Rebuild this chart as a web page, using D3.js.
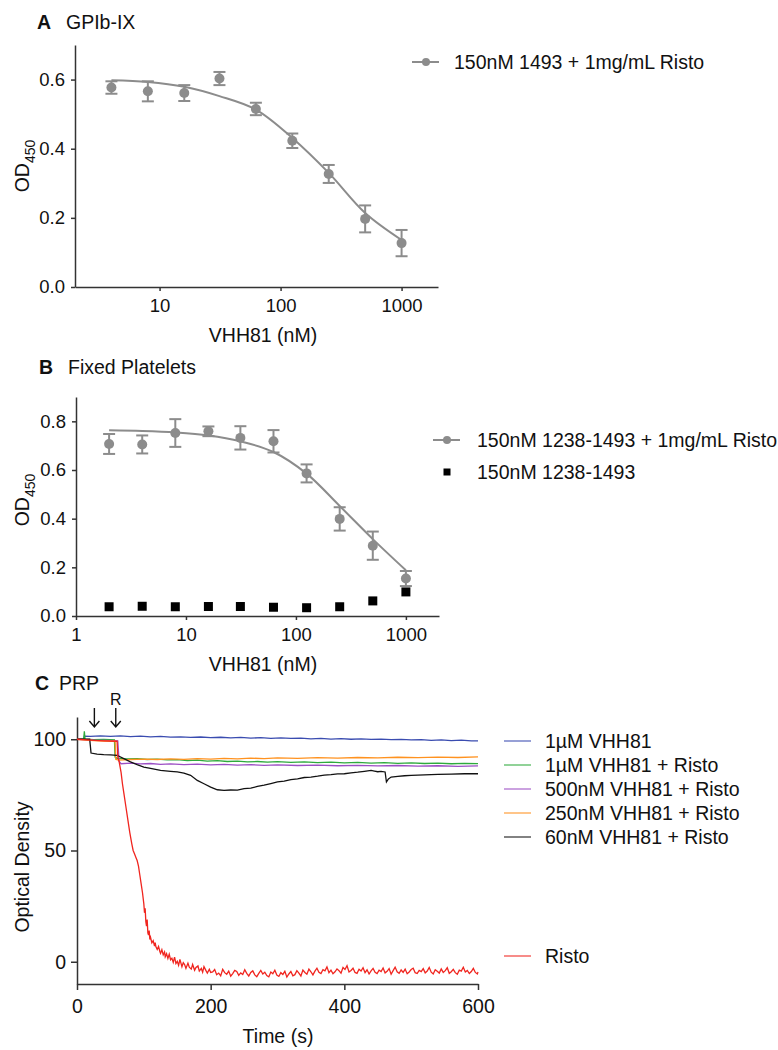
<!DOCTYPE html>
<html>
<head>
<meta charset="utf-8">
<script src="https://cdn.jsdelivr.net/npm/d3@7"></script>
<style>
  body { margin: 0; background: #fff; }
  svg { font-family: "Liberation Sans", Arial, sans-serif; }
  .axis path, .axis line { stroke: #333; stroke-width: 1.5; }
  .axis text { fill: #111; font-family: "Liberation Sans", Arial, sans-serif; }
</style>
</head>
<body>
<svg id="fig" width="778" height="1050"></svg>
<script>
// ---------------- Panel A: GPIb-IX ----------------
const concA = [4, 8, 16, 31.25, 62.5, 125, 250, 500, 1000];
const odA   = [0.577, 0.566, 0.561, 0.603, 0.515, 0.423, 0.327, 0.197, 0.127];
const semA  = [0.018, 0.029, 0.023, 0.019, 0.018, 0.021, 0.026, 0.039, 0.038];
// fitted curve
const fitAx = [4, 8, 16, 31.25, 62.5, 125, 250, 500, 1000];
const fitAy = [0.598, 0.593, 0.579, 0.552, 0.513, 0.431, 0.330, 0.214, 0.136];

// ---------------- Panel B: Fixed Platelets ----------------
const concB   = [2, 4, 8, 16, 31.25, 62.5, 125, 250, 500, 1000];
const odB     = [0.707, 0.705, 0.752, 0.759, 0.732, 0.718, 0.586, 0.399, 0.289, 0.154];
const semB    = [0.041, 0.037, 0.057, 0.020, 0.048, 0.046, 0.037, 0.048, 0.058, 0.031];
const odBctrl = [0.038, 0.040, 0.038, 0.039, 0.039, 0.036, 0.034, 0.038, 0.062, 0.099];
const fitBx = [2, 4, 8, 16, 31.25, 62.5, 125, 250, 500, 1000];
const fitBy = [0.763, 0.760, 0.754, 0.742, 0.718, 0.674, 0.585, 0.452, 0.316, 0.188];

// ---------------- Panel C: PRP aggregometry ----------------
const traceBlue = [[0,100],[10,100],[11,101.4],[20,101.3],[35,101.5],[50,101.3],[65,101.5],[80,101.2],[95,101.4],[110,101.1],[125,101.3],[140,101.0],[155,101.1],[170,100.8],[185,101.0],[200,100.7],[215,100.9],[230,100.6],[245,100.8],[260,100.5],[275,100.7],[290,100.4],[305,100.6],[320,100.4],[335,100.5],[350,100.2],[365,100.4],[380,100.1],[395,100.3],[410,100.0],[425,100.2],[440,99.9],[455,100.1],[470,99.8],[485,99.9],[500,99.7],[515,99.8],[530,99.5],[545,99.7],[560,99.4],[575,99.6],[590,99.3],[600,99.3]];
const traceGreen = [[0,100],[10,100],[11,103.6],[12,100.1],[25,99.8],[40,99.9],[56,99.7],[57,92.0],[60,91.4],[75,91.2],[90,91.3],[105,90.9],[120,91.1],[135,90.7],[150,90.8],[165,90.4],[180,90.6],[195,90.2],[210,90.4],[225,90.0],[240,90.2],[255,89.8],[270,90.0],[285,89.7],[300,89.9],[320,89.6],[340,89.8],[360,89.5],[380,89.7],[400,89.4],[420,89.6],[440,89.3],[460,89.5],[480,89.2],[500,89.4],[520,89.1],[540,89.3],[560,89.0],[580,89.2],[600,89.0]];
const tracePurple = [[0,100],[10,99.8],[25,99.6],[40,99.5],[55,99.4],[61,99.3],[63,90.0],[66,89.0],[80,89.3],[95,88.9],[110,89.1],[125,88.7],[140,88.9],[160,88.6],[180,88.8],[200,88.5],[220,88.7],[240,88.4],[260,88.6],[280,88.3],[300,88.5],[330,88.2],[360,88.4],[390,88.1],[420,88.3],[450,88.0],[480,88.2],[510,87.9],[540,88.1],[570,87.8],[600,88.0]];
const traceOrange = [[0,100],[10,99.7],[25,99.4],[40,99.2],[57,99.1],[58,91.0],[62,90.6],[80,90.9],[100,91.1],[120,90.9],[140,91.2],[160,91.0],[180,91.3],[200,91.1],[220,91.4],[240,91.2],[260,91.5],[280,91.3],[300,91.6],[330,91.4],[360,91.7],[390,91.5],[420,91.8],[450,91.6],[480,91.9],[510,91.7],[540,92.0],[570,91.8],[600,92.1]];
const traceBlack = [[0,100],[19,100],[21,93.8],[30,93.3],[40,93.1],[50,93.0],[60,92.8],[70,91.3],[80,89.8],[90,88.6],[100,87.5],[110,86.9],[125,86.0],[140,85.6],[150,85.3],[160,84.8],[170,83.8],[180,81.5],[190,80.0],[200,78.5],[210,77.3],[220,77.0],[230,77.2],[240,77.1],[250,77.8],[260,78.0],[270,78.8],[280,79.4],[290,80.1],[300,80.8],[310,81.2],[320,81.9],[330,82.2],[340,82.8],[350,83.0],[360,83.4],[370,83.9],[380,84.1],[390,84.4],[400,84.5],[410,84.9],[420,85.2],[430,85.6],[440,86.0],[445,85.7],[450,85.4],[455,85.6],[461,85.3],[463,80.8],[466,82.2],[470,83.0],[480,83.3],[490,83.6],[500,83.8],[520,84.0],[540,84.2],[560,84.3],[580,84.5],[600,84.5]];
const traceRed = [[0,100],[20,99.6],[40,99.3],[60,99.1],[61,92],[63,90],[66,85],[68,80],[70,76],[73,70],[76,64],[79,58],[82,53],[84,50],[86,48.5],[88,47],[90,45.5],[92,43],[94,39],[96,35],[98,31],[100,26],[101,22],[102,24],[103,18],[104,16],[105,19],[106,13],[107,12],[108,14],[109,10],[110,11],[112,8.5],[114,9.5],[116,7],[117,8.6],[118,6.8],[120,5.5],[122,6.9],[124,4.6],[125,3.8],[127,5.4],[129,3.1],[131,4.4],[132,2.2],[134,3.6],[136,1.5],[138,3.4],[140,0.9],[142,1.6],[144,-0.3],[146,2.1],[148,-0.8],[150,0.2],[152,-1.6],[154,1.1],[157,-2.2],[159,-0.4],[161,-1.3],[163,-3.0],[166,-0.6],[168,-2.4],[171,-3.3],[173,-1.2],[176,-3.8],[178,-2.6],[181,-1.9],[183,-4.2],[186,-3.0],[188,-4.7],[190,-2.2],[193,-4.0],[195,-5.1],[198,-3.4],[200,-4.8],
  [203,-4.6],[206,-3.5],[209,-5.8],[212,-5.1],[215,-6.3],[218,-3.4],[221,-4.9],[224,-5.6],[227,-4.2],[230,-6.5],[233,-5.3],[236,-3.9],[239,-4.4],[242,-6.1],[245,-5.0],[248,-5.7],[251,-3.6],[254,-5.2],[257,-6.4],[260,-4.8],[263,-4.1],[266,-5.9],[269,-6.7],[272,-5.2],[275,-3.9],[278,-5.5],[281,-4.7],[284,-6.2],[287,-6.8],[290,-4.6],[293,-5.4],[296,-3.8],[299,-6.0],[302,-6.6],[305,-4.9],[308,-5.7],[311,-4.3],[314,-6.9],[317,-5.5],[320,-4.4],[323,-6.3],[326,-5.8],[329,-4.0],[332,-5.1],[335,-6.4],[338,-3.7],[341,-4.8],[344,-5.6],[347,-3.3],[350,-4.5],[353,-5.9],[356,-4.2],[359,-2.9],[362,-4.7],[365,-5.3],[368,-3.6],[371,-4.1],[374,-2.3],[377,-4.9],[380,-3.8],[383,-5.4],[386,-4.5],[389,-3.2],[392,-4.0],[395,-5.1],[398,-2.6],[401,-3.5],[404,-1.8],[407,-4.6],[410,-3.9],[413,-2.9],[416,-4.8],[419,-5.2],[422,-3.4],[425,-4.2],[428,-2.7],[431,-4.9],[434,-3.6],[437,-5.5],[440,-4.1],[443,-3.0],[446,-4.7],[449,-5.3],[452,-3.8],[455,-4.4],[458,-2.8],[461,-5.0],[464,-4.3],[467,-3.1],[470,-5.6],[473,-4.0],[476,-2.4],[479,-4.5],[482,-5.2],[485,-3.7],[488,-4.8],[491,-3.3],[494,-5.4],[497,-4.6],[500,-3.5],[503,-2.9],[506,-4.9],[509,-5.3],[512,-3.9],[515,-4.4],[518,-3.1],[521,-5.0],[524,-4.2],[527,-2.6],[530,-4.7],[533,-5.5],[536,-3.6],[539,-4.3],[542,-5.1],[545,-3.2],[548,-4.8],[551,-4.0],[554,-2.7],[557,-5.2],[560,-4.5],[563,-3.4],[566,-4.9],[569,-5.6],[572,-3.8],[575,-4.2],[578,-2.5],[581,-4.6],[584,-3.9],[587,-5.3],[590,-4.4],[593,-3.0],[596,-4.8],[599,-5.5],[600,-4.6]];

const traceLabels = ['1µM VHH81', '1µM VHH81 + Risto', '500nM VHH81 + Risto', '250nM VHH81 + Risto', '60nM VHH81 + Risto', 'Risto'];
const traceColors = ['#3a4cb0', '#2eaa3c', '#9c4fc4', '#ff921f', '#111111', '#f0251f'];
const traceData = [traceBlue, traceGreen, tracePurple, traceOrange, traceBlack, traceRed];
const arrowTimes = [26, 58];

const gray = '#8c8c8c';
const svg = d3.select('#fig');

function subLabel(g, x, y, main, sub) {
  // rotated y-axis label with subscript
  let t = g.append('text')
      .attr('transform', `translate(${x},${y}) rotate(-90)`)
      .attr('text-anchor', 'middle')
      .attr('font-size', 19.5).attr('fill', '#111');
  t.append('tspan').text(main);
  t.append('tspan').attr('font-size', 14).attr('dy', 6).text(sub);
}

function panelTitle(x, y, letter, name) {
  svg.append('text').attr('x', x).attr('y', y)
      .attr('font-size', 19.5).attr('font-weight', 'bold').attr('fill', '#111').text(letter);
  svg.append('text').attr('x', x + 29).attr('y', y)
      .attr('font-size', 19.5).attr('fill', '#111').text(name);
}

/**
 * Dose-response panel (A and B)
 */
function dosePanel(cfg) {
  let x = d3.scaleLog().domain(cfg.xDomain).range(cfg.xRange);
  let y = d3.scaleLinear().domain(cfg.yDomain).range(cfg.yRange);

  let xAxis = d3.axisBottom(x).tickValues(cfg.xTicks).tickFormat(d3.format('d'))
      .tickSize(4).tickSizeOuter(0).tickPadding(8);
  let yAxis = d3.axisLeft(y).tickValues(cfg.yTicks).tickFormat(d3.format('.1f'))
      .tickSize(4).tickSizeOuter(0).tickPadding(6);

  svg.append('g').attr('class', 'axis')
      .attr('transform', `translate(0,${cfg.yRange[0]})`)
      .call(xAxis).call(g => g.selectAll('text').attr('font-size', 18.5));
  svg.append('g').attr('class', 'axis')
      .attr('transform', `translate(${cfg.xRange[0]},0)`)
      .call(yAxis).call(g => g.selectAll('text').attr('font-size', 18.5));

  // fitted curve
  let fit = cfg.fitX.map((d, i) => [d, cfg.fitY[i]]);
  svg.append('path').datum(fit)
      .attr('fill', 'none').attr('stroke', gray).attr('stroke-width', 2)
      .attr('d', d3.line().x(d => x(d[0])).y(d => y(d[1])).curve(d3.curveCatmullRom.alpha(0.5)));

  // control squares
  if (cfg.ctrl) {
    svg.append('g').selectAll('rect')
        .data(cfg.conc.map((c, i) => [c, cfg.ctrl[i]]))
        .join('rect')
        .attr('x', d => x(d[0]) - 4.5).attr('y', d => y(d[1]) - 4.5)
        .attr('width', 9).attr('height', 9).attr('fill', '#000');
  }

  let pts = cfg.conc.map((c, i) => ({c: c, v: cfg.od[i], e: cfg.sem[i]}));
  let eb = svg.append('g').attr('stroke', gray).attr('stroke-width', 2);
  eb.selectAll('.stem').data(pts).join('line')
      .attr('x1', d => x(d.c)).attr('x2', d => x(d.c))
      .attr('y1', d => y(d.v - d.e)).attr('y2', d => y(d.v + d.e));
  eb.selectAll('.capT').data(pts).join('line')
      .attr('x1', d => x(d.c) - 6).attr('x2', d => x(d.c) + 6)
      .attr('y1', d => y(d.v + d.e)).attr('y2', d => y(d.v + d.e));
  eb.selectAll('.capB').data(pts).join('line')
      .attr('x1', d => x(d.c) - 6).attr('x2', d => x(d.c) + 6)
      .attr('y1', d => y(d.v - d.e)).attr('y2', d => y(d.v - d.e));
  svg.append('g').selectAll('circle').data(pts).join('circle')
      .attr('cx', d => x(d.c)).attr('cy', d => y(d.v)).attr('r', 5).attr('fill', gray);

  svg.append('text').attr('x', 263).attr('y', cfg.xLabelY)
      .attr('text-anchor', 'middle').attr('font-size', 19.5).attr('fill', '#111')
      .text('VHH81 (nM)');
  subLabel(svg, 29, cfg.yLabelMid, 'OD', '450');
}

panelTitle(37, 29, 'A', 'GPIb-IX');
dosePanel({
  conc: concA, od: odA, sem: semA, fitX: fitAx, fitY: fitAy,
  xDomain: [2, 2000], xRange: [75, 438], yDomain: [0, 0.7], yRange: [287, 45],
  xTicks: [10, 100, 1000], yTicks: [0, 0.2, 0.4, 0.6],
  xLabelY: 342, yLabelMid: 166
});

panelTitle(39, 374, 'B', 'Fixed Platelets');
dosePanel({
  conc: concB, od: odB, sem: semB, ctrl: odBctrl, fitX: fitBx, fitY: fitBy,
  xDomain: [1, 2000], xRange: [76, 439], yDomain: [0, 0.9], yRange: [616, 397],
  xTicks: [1, 10, 100, 1000], yTicks: [0, 0.2, 0.4, 0.6, 0.8],
  xLabelY: 671, yLabelMid: 500
});

// legend A
let legA = svg.append('g').attr('transform', 'translate(0,62)');
legA.append('line').attr('x1', 412).attr('x2', 439).attr('stroke', gray).attr('stroke-width', 2);
legA.append('circle').attr('cx', 426).attr('r', 4).attr('fill', gray);
legA.append('text').attr('x', 454).attr('dy', '0.35em').attr('font-size', 19.5).attr('fill', '#111')
    .text('150nM 1493 + 1mg/mL Risto');

// legend B
let legB = svg.append('g').attr('transform', 'translate(0,440)');
legB.append('line').attr('x1', 433).attr('x2', 460).attr('stroke', gray).attr('stroke-width', 2);
legB.append('circle').attr('cx', 447).attr('r', 4).attr('fill', gray);
legB.append('text').attr('x', 477).attr('dy', '0.35em').attr('font-size', 19.5).attr('fill', '#111')
    .text('150nM 1238-1493 + 1mg/mL Risto');
legB.append('rect').attr('x', 443.5).attr('y', 28.5).attr('width', 7).attr('height', 7).attr('fill', '#000');
legB.append('text').attr('x', 477).attr('y', 32).attr('dy', '0.35em').attr('font-size', 19.5).attr('fill', '#111')
    .text('150nM 1238-1493');

// ---------------- Panel C ----------------
panelTitle(35, 690, 'C', '');
svg.append('text').attr('x', 59).attr('y', 690).attr('font-size', 19.5).attr('fill', '#111').text('PRP');

let xC = d3.scaleLinear().domain([0, 600]).range([77, 478]);
let yC = d3.scaleLinear().domain([-10, 110]).range([984, 717]);

svg.append('g').attr('class', 'axis')
    .attr('transform', 'translate(0,984)')
    .call(d3.axisBottom(xC).tickValues([0, 200, 400, 600]).tickSize(6).tickSizeOuter(0).tickPadding(9))
    .call(g => g.selectAll('text').attr('font-size', 19.5));
svg.append('g').attr('class', 'axis')
    .attr('transform', 'translate(77,0)')
    .call(d3.axisLeft(yC).tickValues([0, 50, 100]).tickSize(6).tickSizeOuter(0).tickPadding(5))
    .call(g => g.selectAll('text').attr('font-size', 19.5));

let lineC = d3.line().x(d => xC(d[0])).y(d => yC(d[1]));
svg.append('g').selectAll('path')
    .data(traceData)
    .join('path')
    .attr('fill', 'none')
    .attr('stroke', (d, i) => traceColors[i])
    .attr('stroke-width', 1.3)
    .attr('d', lineC);

// addition arrows
let arr = svg.append('g').attr('stroke', '#111').attr('stroke-width', 1.4).attr('fill', 'none');
arrowTimes.forEach(t => {
  let ax = xC(t), top = yC(114), tip = yC(105.5);
  arr.append('path').attr('d', `M${ax},${top}V${tip}M${ax - 5},${tip - 6}L${ax},${tip}L${ax + 5},${tip - 6}`);
});
svg.append('text').attr('x', xC(arrowTimes[1])).attr('y', 705).attr('text-anchor', 'middle')
    .attr('font-size', 16).attr('fill', '#111').text('R');

svg.append('text').attr('x', 278).attr('y', 1043).attr('text-anchor', 'middle')
    .attr('font-size', 19.5).attr('fill', '#111').text('Time (s)');
svg.append('text').attr('transform', 'translate(29,867) rotate(-90)').attr('text-anchor', 'middle')
    .attr('font-size', 19.5).attr('fill', '#111').text('Optical Density');

// legend C
const legY = [741, 765, 789, 813, 837, 956];
let legC = svg.append('g');
traceLabels.forEach((lab, i) => {
  legC.append('line').attr('x1', 504).attr('x2', 531).attr('y1', legY[i]).attr('y2', legY[i])
      .attr('stroke', traceColors[i]).attr('stroke-width', 1.5).attr('stroke-opacity', 0.7);
  legC.append('text').attr('x', 545).attr('y', legY[i]).attr('dy', '0.35em')
      .attr('font-size', 19.5).attr('fill', '#111').text(lab);
});
</script>
</body>
</html>
